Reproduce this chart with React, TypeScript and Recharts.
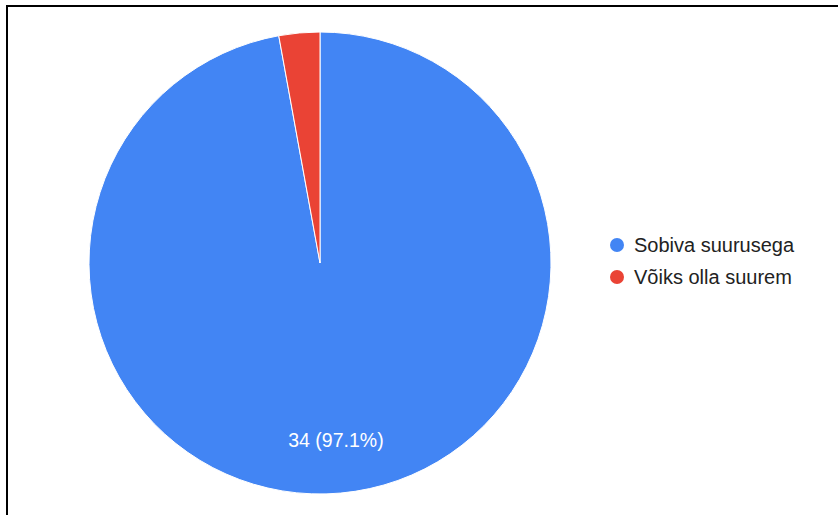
import React from "react";
import { PieChart, Pie, Cell, Legend } from "recharts";

const categories = ["Sobiva suurusega", "Võiks olla suurem"];
const counts = [34, 1];
const colors = ["#4285F4", "#EA4335"];

const data = categories.map((name, i) => ({ name, value: counts[i] }));
const total = counts.reduce((a, b) => a + b, 0);

const RADIAN = Math.PI / 180;

const renderLabel = (props: any) => {
  const { cx, cy, midAngle, outerRadius, value, percent } = props;
  if (percent < 0.05) return null;
  const r = outerRadius * 0.77;
  const x = cx + r * Math.cos(-midAngle * RADIAN);
  const y = cy + r * Math.sin(-midAngle * RADIAN);
  return (
    <text
      x={x}
      y={y}
      fill="#ffffff"
      textAnchor="middle"
      dominantBaseline="central"
      fontSize={19.5}
      fontFamily="'Liberation Sans', Arial, sans-serif"
    >
      {`${value} (${((value / total) * 100).toFixed(1)}%)`}
    </text>
  );
};

const renderLegend = () => (
  <div style={{ fontFamily: "'Liberation Sans', Arial, sans-serif" }}>
    {categories.map((c, i) => (
      <div
        key={c}
        style={{ display: "flex", alignItems: "center", height: 32, fontSize: 20, color: "#222222" }}
      >
        <span
          style={{
            display: "inline-block",
            width: 14,
            height: 14,
            borderRadius: "50%",
            background: colors[i],
            marginRight: 10,
            flexShrink: 0,
          }}
        />
        {c}
      </div>
    ))}
  </div>
);

export default function App() {
  return (
    <div style={{ position: "fixed", left: 0, top: 0, width: 838, height: 515, background: "#fff" }}>
      <div
        style={{
          position: "absolute",
          left: 6,
          top: 5,
          right: 0,
          bottom: 0,
          borderLeft: "2px solid #000",
          borderTop: "2px solid #000",
        }}
      />
      <div style={{ position: "absolute", left: 0, top: 0 }}>
        <PieChart width={838} height={515} margin={{ top: 0, right: 0, bottom: 0, left: 0 }}>
          <Pie
            data={data}
            dataKey="value"
            nameKey="name"
            cx={320}
            cy={263}
            outerRadius={231}
            startAngle={90}
            endAngle={-270}
            stroke="#ffffff"
            strokeWidth={1}
            label={renderLabel}
            labelLine={false}
            isAnimationActive={false}
          >
            {data.map((d, i) => (
              <Cell key={d.name} fill={colors[i]} />
            ))}
          </Pie>
          <Legend
            content={renderLegend}
            layout="vertical"
            wrapperStyle={{ position: "absolute", left: 610, top: 229, width: 225 }}
          />
        </PieChart>
      </div>
    </div>
  );
}
